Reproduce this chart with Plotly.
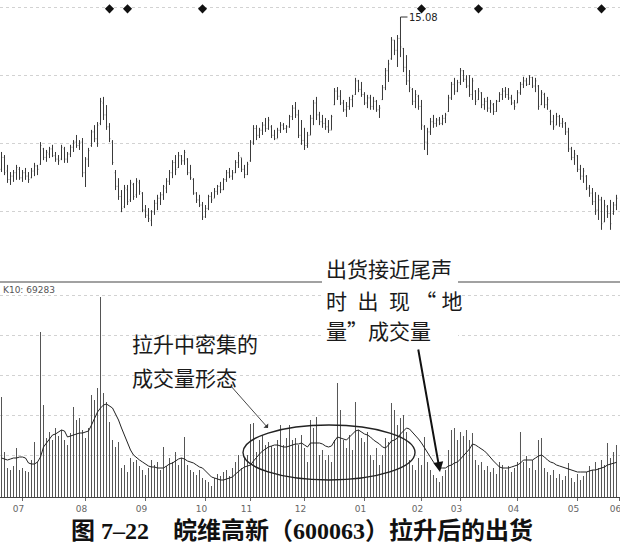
import plotly.graph_objects as go

# ---------------- data ----------------
price_high = [11.11,11.02,10.73,10.52,10.58,10.73,10.67,10.58,10.64,10.52,10.64,10.79,10.73,11.40,11.23,11.17,11.26,11.32,11.11,11.02,
11.32,11.26,11.11,11.32,11.46,11.61,11.46,11.52,10.96,11.23,11.76,11.90,11.99,12.70,12.73,12.49,11.96,11.46,10.58,10.34,
9.99,10.14,10.14,10.29,10.20,10.34,10.29,9.93,9.55,9.46,9.40,9.70,9.85,9.93,10.14,10.34,10.58,10.87,11.02,11.11,
11.02,11.17,10.93,10.73,10.34,9.93,9.85,9.64,9.55,9.85,9.93,10.05,10.14,10.23,10.34,10.58,10.64,10.58,10.87,11.11,
10.93,10.73,10.82,11.46,11.90,11.90,11.82,11.99,12.11,12.14,11.90,11.76,11.82,11.99,11.96,11.90,12.20,12.49,12.58,12.35,
12.05,11.82,11.70,12.20,12.64,12.73,12.29,12.20,12.11,12.05,12.20,12.99,13.02,12.93,12.64,12.58,12.73,12.79,13.29,13.23,
13.17,12.87,12.79,12.79,12.73,12.64,12.49,13.08,13.58,13.82,14.49,14.40,14.55,15.08,14.17,13.96,13.52,12.99,12.93,12.79,
12.64,11.90,11.82,12.11,12.20,12.11,12.14,12.20,12.26,12.79,13.17,13.29,13.23,13.58,13.52,13.37,13.37,13.29,12.93,12.99,
12.87,12.70,12.73,12.64,12.55,12.64,12.87,12.99,13.02,12.99,12.79,12.64,12.93,13.17,13.32,13.29,13.37,13.32,13.29,13.08,
12.93,12.85,12.73,12.35,12.20,12.26,12.20,12.11,11.99,11.82,11.26,11.17,11.02,10.73,10.64,10.43,10.14,10.05,9.93,9.85,
9.79,9.70,9.55,9.70,9.64,9.85]
price_low = [10.52,10.43,10.20,10.14,10.23,10.29,10.29,10.23,10.29,10.20,10.34,10.40,10.43,10.73,10.87,10.82,10.93,10.96,10.82,10.73,
10.87,10.79,10.79,10.96,11.11,11.23,11.17,10.37,10.08,10.67,11.26,11.40,11.26,11.90,12.05,11.76,11.40,10.73,9.99,9.70,
9.34,9.46,9.55,9.64,9.70,9.76,9.85,9.34,9.17,9.05,8.93,9.26,9.40,9.55,9.70,9.90,10.14,10.34,10.43,10.64,
10.73,10.73,10.43,10.29,9.85,9.61,9.49,9.11,9.17,9.40,9.61,9.76,9.85,9.90,9.99,10.23,10.34,10.29,10.49,10.64,
10.52,10.34,10.43,10.82,11.32,11.46,11.52,11.61,11.70,11.76,11.52,11.46,11.52,11.67,11.76,11.67,11.82,12.05,12.11,11.52,
11.32,11.17,11.23,11.61,11.90,12.05,11.90,11.82,11.76,11.67,11.76,12.49,12.64,12.49,12.29,12.14,12.35,12.43,12.79,12.87,
12.73,12.49,12.40,12.35,12.35,12.29,12.11,12.64,12.93,13.17,13.82,13.96,13.61,13.90,13.46,13.08,12.87,12.49,12.40,12.35,
11.76,11.17,11.02,11.61,11.82,11.85,11.90,11.90,11.96,12.29,12.64,12.79,12.87,13.08,13.17,12.99,12.73,12.64,12.49,12.64,
12.40,12.35,12.29,12.26,12.20,12.29,12.58,12.64,12.70,12.64,12.49,12.35,12.55,12.79,12.99,13.05,13.08,12.99,12.87,12.35,
12.49,12.40,12.35,11.90,11.76,11.90,11.85,11.82,11.61,11.11,10.87,10.73,10.52,10.29,10.20,9.99,9.79,9.55,9.26,9.11,
8.82,9.05,9.17,8.82,9.26,9.40]
price_open = [10.60,10.95,10.55,10.30,10.40,10.50,10.60,10.35,10.50,10.40,10.35,10.55,10.70,10.75,11.20,10.95,11.05,11.20,11.00,10.90,
10.90,11.20,10.90,11.05,11.25,11.40,11.30,11.40,10.50,10.90,11.30,11.70,11.50,11.95,12.55,12.20,11.85,11.40,10.50,10.10,
9.80,9.50,10.00,9.70,10.15,9.85,10.20,9.90,9.40,9.25,9.10,9.35,9.60,9.75,9.85,10.05,10.25,10.50,10.80,10.65,
11.00,10.85,10.90,10.50,10.30,9.90,9.70,9.55,9.20,9.45,9.80,9.75,9.95,10.10,10.00,10.30,10.50,10.40,10.50,10.80,
10.95,10.60,10.45,10.85,11.40,11.80,11.60,11.75,11.90,11.80,11.85,11.60,11.50,11.75,11.90,11.80,11.85,12.15,12.40,12.20,
11.60,11.45,11.30,11.60,12.10,12.55,12.20,12.00,11.95,11.85,11.75,12.50,12.90,12.75,12.55,12.35,12.45,12.65,12.80,13.20,
12.95,12.80,12.55,12.70,12.45,12.60,12.35,12.65,13.00,13.50,13.85,14.40,14.10,14.45,14.15,13.60,13.20,12.95,12.60,12.75,
12.45,11.85,11.40,11.70,12.00,11.95,12.05,11.95,12.10,12.30,12.70,13.10,12.90,13.15,13.50,13.25,13.05,12.80,12.90,12.65,
12.85,12.50,12.60,12.40,12.50,12.30,12.60,12.80,12.90,12.80,12.70,12.55,12.55,12.85,13.10,13.20,13.10,13.30,13.05,13.05,
12.50,12.80,12.50,12.30,12.00,11.90,12.15,11.95,11.95,11.70,11.20,10.95,11.00,10.60,10.40,10.40,10.05,9.90,9.65,9.40,
9.70,9.05,9.50,9.30,9.30,9.55]
price_close = [10.95,10.50,10.30,10.40,10.50,10.65,10.35,10.50,10.40,10.30,10.55,10.70,10.60,11.30,10.95,11.10,11.20,11.00,10.90,10.85,
11.25,10.90,11.05,11.25,11.40,11.30,11.40,10.50,10.90,11.15,11.70,11.50,11.90,12.60,12.20,11.85,11.50,10.80,10.10,9.80,
9.45,10.05,9.65,10.20,9.80,10.25,9.95,9.40,9.25,9.15,9.35,9.60,9.75,9.85,10.10,10.25,10.50,10.80,10.60,11.00,
10.85,11.10,10.50,10.35,9.90,9.70,9.55,9.20,9.45,9.80,9.70,9.95,10.10,10.00,10.30,10.50,10.40,10.50,10.80,11.00,
10.60,10.45,10.75,11.40,11.80,11.60,11.75,11.90,11.80,12.05,11.60,11.50,11.75,11.90,11.80,11.85,12.15,12.40,12.20,11.60,
11.45,11.30,11.60,12.10,12.55,12.20,12.00,11.95,11.85,11.75,12.15,12.90,12.75,12.55,12.35,12.45,12.65,12.75,13.20,12.95,
12.80,12.55,12.70,12.45,12.60,12.35,12.40,13.00,13.50,13.70,14.40,14.10,14.45,14.20,13.60,13.20,13.00,12.60,12.80,12.45,
11.90,11.40,11.70,12.00,11.95,12.05,11.95,12.10,12.20,12.70,13.10,12.90,13.15,13.50,13.25,13.05,12.80,13.20,12.60,12.90,
12.50,12.60,12.40,12.55,12.30,12.60,12.80,12.90,12.80,12.70,12.55,12.45,12.85,13.10,13.20,13.10,13.30,13.05,13.20,12.45,
12.85,12.50,12.65,12.00,11.85,12.15,11.95,12.00,11.70,11.20,10.95,11.05,10.60,10.40,10.55,10.05,9.90,9.65,9.40,9.70,
9.00,9.55,9.30,9.00,9.55,9.75]
volume = [200000,90000,58000,54000,62000,98000,54000,58000,52000,50000,74000,110000,70000,330000,184000,118000,130000,114000,138000,122000,
134000,114000,104000,128000,180000,154000,158000,134000,118000,138000,204000,194000,218000,400000,208000,190000,150000,114000,100000,110000,
58000,64000,50000,78000,70000,74000,62000,54000,44000,58000,74000,64000,70000,54000,100000,62000,78000,70000,90000,64000,
78000,120000,64000,54000,50000,44000,54000,38000,34000,30000,22000,38000,46000,42000,50000,54000,42000,58000,70000,84000,
58000,78000,84000,146000,148000,90000,114000,124000,104000,110000,102000,98000,114000,144000,104000,118000,144000,114000,118000,104000,
124000,98000,70000,154000,138000,160000,84000,94000,74000,84000,70000,114000,228000,174000,114000,98000,124000,94000,190000,134000,
118000,110000,130000,84000,74000,98000,64000,84000,118000,110000,188000,174000,144000,158000,164000,130000,74000,64000,54000,78000,
64000,120000,70000,54000,44000,38000,30000,42000,54000,94000,134000,138000,114000,130000,122000,134000,114000,128000,74000,64000,
70000,54000,62000,50000,58000,46000,70000,64000,54000,62000,50000,58000,70000,130000,70000,82000,58000,74000,54000,114000,
118000,58000,50000,44000,54000,38000,46000,34000,42000,68000,38000,30000,46000,34000,42000,50000,62000,54000,70000,58000,
74000,64000,108000,78000,90000,104000]
volume_ma10 = [78000,76000,74000,76000,78000,78000,80000,80000,78000,68000,66000,66000,70000,80000,100000,108000,116000,124000,126000,130000,
134000,132000,120000,122000,124000,126000,128000,128000,130000,132000,144000,158000,170000,178000,184000,186000,182000,178000,166000,154000,
138000,122000,110000,94000,84000,78000,74000,70000,66000,62000,60000,60000,58000,58000,58000,62000,66000,68000,72000,76000,
78000,76000,72000,70000,68000,64000,60000,58000,52000,46000,40000,38000,36000,34000,34000,36000,38000,40000,46000,52000,
56000,60000,62000,64000,72000,80000,86000,92000,96000,100000,102000,104000,104000,102000,100000,100000,102000,104000,106000,106000,
108000,104000,100000,108000,108000,108000,108000,106000,102000,100000,102000,112000,120000,118000,116000,114000,120000,126000,132000,134000,
130000,126000,124000,120000,114000,110000,106000,100000,98000,104000,112000,114000,118000,126000,132000,138000,136000,130000,122000,116000,
108000,98000,90000,80000,70000,62000,58000,58000,58000,62000,64000,68000,70000,76000,82000,88000,96000,106000,104000,100000,
96000,92000,86000,78000,72000,66000,60000,58000,58000,58000,60000,62000,64000,68000,74000,74000,74000,74000,78000,82000,
84000,80000,74000,70000,68000,64000,62000,60000,58000,56000,54000,52000,50000,50000,50000,50000,52000,54000,54000,56000,
58000,60000,64000,66000,68000,69283]
bar_index = list(range(len(price_high)))

month_labels = ['07', '08', '09', '10', '11', '12', '01', '02', '03', '04', '05', '06']
month_start_index = [7, 28, 48, 68, 83, 101, 121, 140, 153, 172, 192, 206]

event_index = [36, 42, 67, 140, 159, 200]   # info-marker days
event_level = [15.32] * len(event_index)
peak_index = 133
peak_value = 15.08
vol_label = 'K10: 69283'

# ---------------- layout helpers (pixel geometry) ----------------
W, H = 620, 552
PLOT_BOTTOM = 497          # px of x-axis line
def px(x):
    return x / W
def py(y):
    return (PLOT_BOTTOM - y) / PLOT_BOTTOM

fig = go.Figure()

fig.add_trace(go.Ohlc(
    x=bar_index, open=price_open, high=price_high, low=price_low, close=price_close,
    xaxis='x', yaxis='y2',
    increasing=dict(line=dict(color='#3a3a3a', width=1)),
    decreasing=dict(line=dict(color='#3a3a3a', width=1)),
    tickwidth=0.25, showlegend=False, hoverinfo='skip'))

fig.add_trace(go.Scatter(
    x=event_index, y=event_level, mode='markers', xaxis='x', yaxis='y2',
    marker=dict(symbol='diamond', size=7, color='#111'),
    showlegend=False, hoverinfo='skip'))

# volume sticks (thin vertical lines from zero to each day's volume)
stick_x, stick_y = [], []
for i, v in zip(bar_index, volume):
    stick_x += [i, i, None]
    stick_y += [0, v, None]
fig.add_trace(go.Scatter(
    x=stick_x, y=stick_y, mode='lines', xaxis='x', yaxis='y',
    line=dict(color='#555', width=1), showlegend=False, hoverinfo='skip'))

fig.add_trace(go.Scatter(
    x=bar_index, y=volume_ma10, mode='lines', xaxis='x', yaxis='y',
    line=dict(color='#222', width=1), showlegend=False, hoverinfo='skip'))

price_dom0 = py(282)
fig.update_layout(
    width=W, height=H,
    margin=dict(l=0, r=0, t=0, b=H - PLOT_BOTTOM, pad=0, autoexpand=False),
    paper_bgcolor='white', plot_bgcolor='white',
    hovermode=False,
    xaxis=dict(range=[-0.5, 206.17], showgrid=False, zeroline=False, automargin=False,
               showline=True, linecolor='#444', linewidth=1,
               tickvals=month_start_index, ticktext=month_labels,
               ticks='outside', ticklen=3, tickcolor='#666', tickwidth=1,
               ticklabelshift=-4, ticklabeloverflow='allow',
               tickfont=dict(family='DejaVu Sans', size=9, color='#666'),
               rangeslider=dict(visible=False)),
    yaxis=dict(domain=[0, py(283)], range=[0, 428000], showticklabels=False, automargin=False,
               tickvals=[84000, 164000, 244000, 324000, 404000],
               showgrid=True, gridcolor='#d2d2d2', griddash='dot', gridwidth=1,
               zeroline=False, showline=False),
    yaxis2=dict(domain=[price_dom0, 1], range=[7.286, 15.58], anchor='x', automargin=False,
                showticklabels=False, tickvals=[9.37, 11.37, 13.37, 15.37],
                showgrid=True, gridcolor='#d2d2d2', griddash='dot', gridwidth=1,
                zeroline=False, showline=False),
)

shapes = [
    # panel separator
    dict(type='line', xref='paper', yref='paper', x0=0, x1=1, y0=price_dom0, y1=price_dom0,
         line=dict(color='#444', width=1.2), layer='above'),
    # white box behind the right-hand note
    dict(type='rect', xref='paper', yref='paper', x0=px(322), x1=px(458), y0=py(347), y1=py(252),
         fillcolor='white', line=dict(width=0), layer='above'),
    # ellipse around dense volume
    dict(type='circle', xref='paper', yref='paper', x0=px(243), x1=px(415), y0=py(480), y1=py(425),
         line=dict(color='#222', width=1.4), layer='above'),
]
fig.update_layout(shapes=shapes)

cjk = 'Noto Sans CJK SC'
note_font = dict(family=cjk, size=21, color='#1a1a1a')
ann = []
def note(text, x, y):
    ann.append(dict(text=text, xref='paper', yref='paper', x=px(x), y=py(y),
                    xanchor='left', yanchor='middle', showarrow=False, font=note_font))

note('拉升中密集的', 130, 343)
note('成交量形态', 130, 377)
note('出货接近尾声', 324, 268)
note('时\u2002出\u2002现\u2005“\u2005地', 324, 300)
note('量”成交量', 324, 330)

# arrows
ann.append(dict(text='', xref='paper', yref='paper', x=px(268), y=py(428),
                ax=-38, ay=-43, showarrow=True, arrowhead=1, arrowsize=1.2,
                arrowwidth=0.9, arrowcolor='#333'))
ann.append(dict(text='', xref='paper', yref='paper', x=px(440), y=py(472),
                ax=-22, ay=-124, showarrow=True, arrowhead=2, arrowsize=1,
                arrowwidth=2, arrowcolor='#111'))

# peak label
ann.append(dict(text=f'{peak_value:.2f}', x=peak_index, y=peak_value, xref='x', yref='y2',
                showarrow=True, arrowhead=0, arrowwidth=1, arrowcolor='#333',
                ax=7, ay=0, xanchor='left', yanchor='middle',
                font=dict(family='DejaVu Sans', size=10, color='#222')))

# volume indicator label
ann.append(dict(text=vol_label, xref='paper', yref='paper', x=px(1), y=py(290),
                xanchor='left', yanchor='middle', showarrow=False,
                font=dict(family='DejaVu Sans', size=9, color='#555')))

# caption
ann.append(dict(text='<b>图 7–22\u3000皖维高新（600063）拉升后的出货</b>',
                xref='paper', yref='paper', x=px(302), y=py(530),
                xanchor='center', yanchor='middle', showarrow=False,
                font=dict(family='Liberation Serif, ' + cjk, size=24, color='#111')))

fig.update_layout(annotations=ann)

fig.write_html('out.html', config={'displayModeBar': False},
               post_script="document.body.style.margin='0';document.body.style.padding='0';")
